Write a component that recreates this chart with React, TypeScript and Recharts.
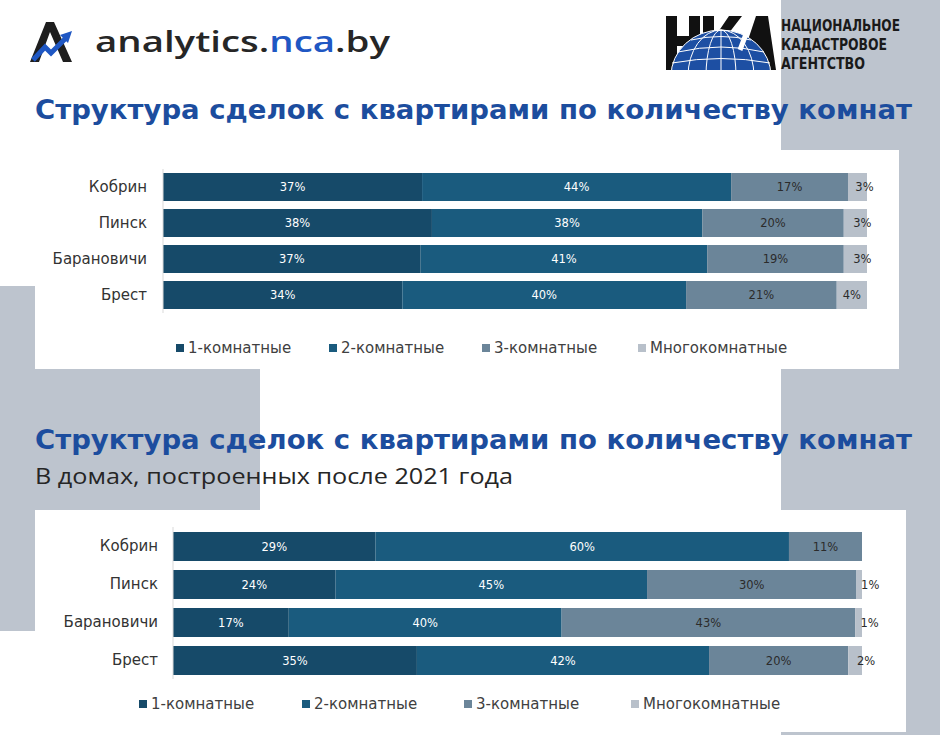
import React from 'react';
import { BarChart, Bar, XAxis, YAxis, LabelList, Legend } from 'recharts';

// ---------- data ----------
const cities = ['Кобрин', 'Пинск', 'Барановичи', 'Брест'];
const seriesNames = ['1-комнатные', '2-комнатные', '3-комнатные', 'Многокомнатные'];

// Chart 1: all deals (shares, %)
const all1Room = [36.8, 38.2, 36.6, 34.0];
const all2Room = [43.9, 38.4, 40.7, 40.3];
const all3Room = [16.6, 20.1, 19.4, 21.4];
const allMulti = [2.7, 3.3, 3.3, 4.3];

// Chart 2: houses built after 2021 (shares, %)
const new1Room = [29.4, 23.6, 16.8, 35.4];
const new2Room = [60.0, 45.2, 39.6, 42.4];
const new3Room = [10.6, 30.4, 42.6, 20.2];
const newMulti = [0, 0.8, 1.0, 2.0];

const title = 'Структура сделок с квартирами по количеству комнат';
const subtitle = 'В домах, построенных после 2021 года';

// ---------- style ----------
const COLORS = ['#164a69', '#1a5b7e', '#6b8599', '#b8c0ca'];
const LABEL_COLORS = ['#ffffff', '#ffffff', '#2b2b2b', '#2b2b2b'];
const KEYS = ['r1', 'r2', 'r3', 'rm'];
const GRAY = '#bdc4ce';
const FONT = "'DejaVu Sans', sans-serif";
const TITLE_BLUE = '#1c4d9e';

const build = (a: number[], b: number[], c: number[], d: number[]) =>
  cities.map((city, i) => ({ city, r1: a[i], r2: b[i], r3: c[i], rm: d[i] }));

const data1 = build(all1Room, all2Room, all3Room, allMulti);
const data2 = build(new1Room, new2Room, new3Room, newMulti);

const makeLabel = (color: string, smallOffset: number) => (props: any) => {
  const { x, y, width, height, value } = props;
  if (!value) return null;
  const w = Number(width);
  const cx = Number(x) + w / 2 + (w < 25 ? smallOffset : 0);
  return (
    <text
      x={cx}
      y={Number(y) + Number(height) / 2}
      fill={color}
      textAnchor="middle"
      dominantBaseline="central"
      fontSize={11.5}
      fontFamily={FONT}
    >
      {Math.round(Number(value))}%
    </text>
  );
};

const makeLegend = (positions: number[]) => () => (
  <div style={{ position: 'relative', height: 0 }}>
    {seriesNames.map((n, i) => (
      <div
        key={n}
        style={{
          position: 'absolute',
          left: positions[i],
          top: 0,
          height: 16,
          display: 'flex',
          alignItems: 'center',
          whiteSpace: 'nowrap',
          fontFamily: FONT,
          fontSize: 15,
          color: '#404040',
        }}
      >
        <span style={{ width: 8, height: 8, background: COLORS[i], marginRight: 4, display: 'inline-block' }} />
        {n}
      </div>
    ))}
  </div>
);

type ChartProps = {
  data: any[];
  width: number;
  height: number;
  yWidth: number;
  margin: { top: number; right: number; bottom: number; left: number };
  barSize: number;
  tickMargin: number;
  legendTop: number;
  legendPos: number[];
  smallOffset: number;
};

const StackChart = (p: ChartProps) => (
  <BarChart width={p.width} height={p.height} data={p.data} layout="vertical" margin={p.margin}>
    <XAxis type="number" domain={[0, 100]} hide />
    <YAxis
      type="category"
      dataKey="city"
      width={p.yWidth}
      tickLine={false}
      tickSize={0}
      tickMargin={p.tickMargin}
      axisLine={{ stroke: '#d9d9d9' }}
      tick={{ fill: '#333333', fontSize: 15, fontFamily: FONT }}
    />
    <Legend
      content={makeLegend(p.legendPos)}
      wrapperStyle={{ top: p.legendTop, left: 0, width: p.width, height: 0 }}
    />
    {KEYS.map((k, i) => (
      <Bar key={k} dataKey={k} name={seriesNames[i]} stackId="a" fill={COLORS[i]} barSize={p.barSize} isAnimationActive={false}>
        <LabelList dataKey={k} content={makeLabel(LABEL_COLORS[i], p.smallOffset)} />
      </Bar>
    ))}
  </BarChart>
);

const Header = () => (
  <svg width={940} height={735} style={{ position: 'absolute', left: 0, top: 0, pointerEvents: 'none' }}>
    {/* analytics icon */}
    <polygon points="30,62 46,22 54,22 72,62 63,62 50,32 39,62" fill="#1e1e1e" />
    <polyline points="33,60 45,47 51,53 65,39" fill="none" stroke="#1f57c3" strokeWidth={5} strokeLinejoin="miter" />
    <polygon points="72,31 60,35 68,43" fill="#1f57c3" />
    <text x={95} y={52} fontFamily="'Open Sans', sans-serif" fontWeight={600} fontSize={29} textLength={295} lengthAdjust="spacingAndGlyphs" fill="#262626">
      analytics.<tspan fill="#1f57c3">nca</tspan>.by
    </text>

    {/* NCA logo */}
    <defs>
      <clipPath id="globeClip">
        <rect x={660} y={10} width={120} height={60} />
      </clipPath>
    </defs>
    <rect x={666} y={16} width={11} height={54} fill="#111" />
    <rect x={689} y={16} width={11} height={54} fill="#111" />
    <rect x={666} y={36} width={34} height={10} fill="#111" />
    <rect x={703} y={16} width={11} height={54} fill="#111" />
    <polygon points="714,38 729,16 742,16 722,42 742,70 729,70 714,48" fill="#111" />
    <polygon points="738,70 756,16 768,16 776,70 765,70 761,56 752,56 749,70" fill="#111" />
    <g clipPath="url(#globeClip)">
      <ellipse cx={721} cy={76} rx={50} ry={46} fill="#1d4fa3" />
      <ellipse cx={721} cy={76} rx={50} ry={46} fill="none" stroke="#fff" strokeWidth={1} />
      <ellipse cx={721} cy={76} rx={33} ry={46} fill="none" stroke="#fff" strokeWidth={1} />
      <ellipse cx={721} cy={76} rx={15} ry={46} fill="none" stroke="#fff" strokeWidth={1} />
      <line x1={721} y1={30} x2={721} y2={70} stroke="#fff" strokeWidth={1} />
      <path d="M678,52 Q721,42 764,52" fill="none" stroke="#fff" strokeWidth={1} />
      <path d="M672,63 Q721,54 770,63" fill="none" stroke="#fff" strokeWidth={1} />
      <path d="M691,40 Q721,33 751,40" fill="none" stroke="#fff" strokeWidth={1} />
    </g>
    <line x1={752} y1={18} x2={740} y2={50} stroke="#fff" strokeWidth={5} />
    <g fontFamily="'Liberation Sans Narrow', 'DejaVu Sans Condensed', sans-serif" fontWeight={700} fontSize={16} fill="#1a1a1a">
      <text x={781} y={31} textLength={119} lengthAdjust="spacingAndGlyphs">НАЦИОНАЛЬНОЕ</text>
      <text x={781} y={50} textLength={106} lengthAdjust="spacingAndGlyphs">КАДАСТРОВОЕ</text>
      <text x={781} y={69} textLength={84} lengthAdjust="spacingAndGlyphs">АГЕНТСТВО</text>
    </g>

    {/* titles */}
    <text x={35} y={119} fontFamily="'DejaVu Sans', sans-serif" fontWeight={700} fontSize={26} fill={TITLE_BLUE} textLength={877} lengthAdjust="spacingAndGlyphs">
      {title}
    </text>
    <text x={35} y={449} fontFamily="'DejaVu Sans', sans-serif" fontWeight={700} fontSize={26} fill={TITLE_BLUE} textLength={877} lengthAdjust="spacingAndGlyphs">
      {title}
    </text>
    <text x={35} y={484} fontFamily="'Open Sans', sans-serif" fontWeight={400} fontSize={22} fill="#262626" textLength={478} lengthAdjust="spacingAndGlyphs">
      {subtitle}
    </text>
  </svg>
);

export default function App() {
  return (
    <div style={{ position: 'absolute', left: 0, top: 0, width: 940, height: 735, background: '#ffffff', overflow: 'hidden' }}>
      {/* decorative gray blocks */}
      <div style={{ position: 'absolute', left: 781, top: 0, width: 159, height: 735, background: GRAY }} />
      <div style={{ position: 'absolute', left: 0, top: 286, width: 260, height: 345, background: GRAY }} />

      {/* chart 1 panel */}
      <div style={{ position: 'absolute', left: 35, top: 150, width: 864, height: 219, background: '#ffffff' }}>
        <StackChart
          data={data1}
          width={864}
          height={219}
          yWidth={128}
          margin={{ top: 19, right: 32, bottom: 56, left: 0 }}
          barSize={28}
          tickMargin={16}
          legendTop={190}
          legendPos={[141, 294, 447, 603]}
          smallOffset={7}
        />
      </div>

      {/* chart 2 panel */}
      <div style={{ position: 'absolute', left: 35, top: 510, width: 871, height: 222, background: '#ffffff' }}>
        <StackChart
          data={data2}
          width={871}
          height={222}
          yWidth={138}
          margin={{ top: 17, right: 44, bottom: 53, left: 0 }}
          barSize={29}
          tickMargin={15}
          legendTop={186}
          legendPos={[104, 267, 429, 596]}
          smallOffset={11}
        />
      </div>

      <Header />
    </div>
  );
}
